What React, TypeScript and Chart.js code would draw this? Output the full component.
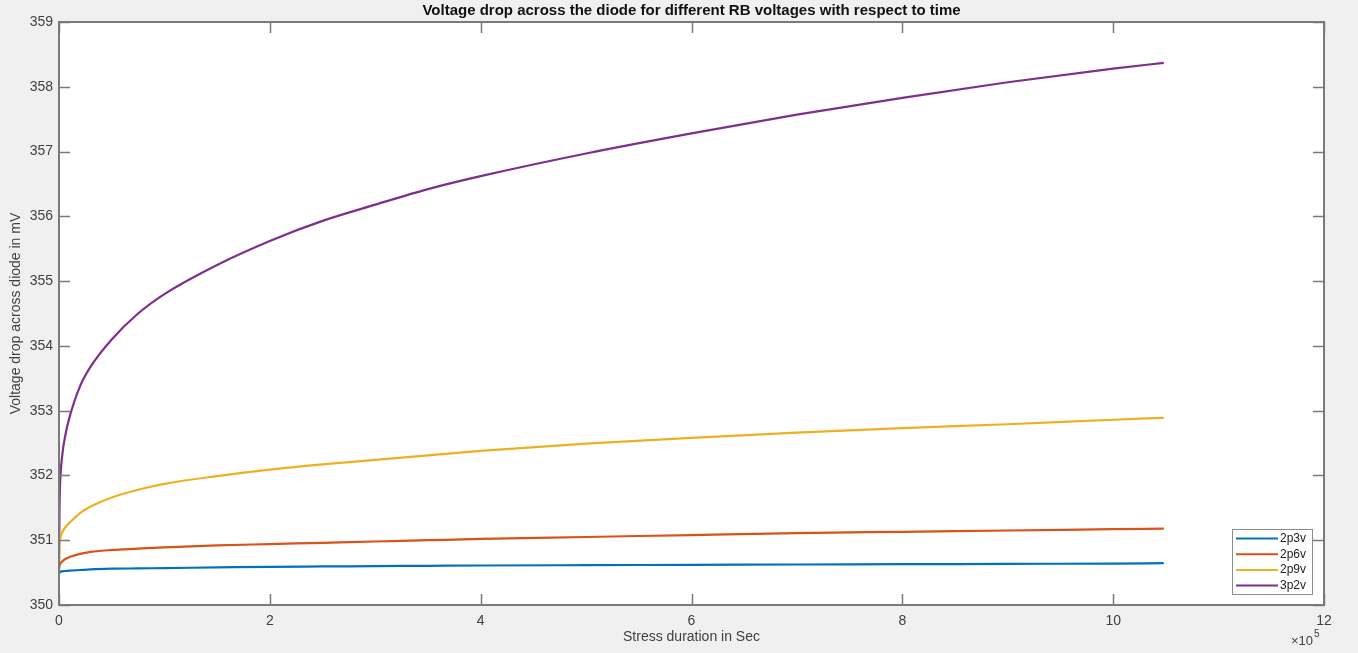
import React, { useEffect, useRef } from 'react';
import { Chart, registerables } from 'chart.js';
Chart.register(...registerables);

const chartTitle = 'Voltage drop across the diode for different RB voltages with respect to time';
const xAxisLabel = 'Stress duration in Sec';
const yAxisLabel = 'Voltage drop across diode in mV';
const seriesNames = ['2p3v', '2p6v', '2p9v', '3p2v'];
const seriesColors = ['#0072BD', '#D95319', '#EDB120', '#7E2F8E'];

const timeSec = [0, 500, 1000, 3000, 6000, 10000, 20000, 30000, 50000, 75000, 100000, 150000, 200000, 250000, 300000, 350000, 400000, 500000, 600000, 700000, 800000, 900000, 1000000, 1048000];

const v2p3 = [350.48, 350.5, 350.51, 350.52, 350.525, 350.53, 350.54, 350.55, 350.56, 350.565, 350.57, 350.58, 350.59, 350.595, 350.6, 350.605, 350.61, 350.615, 350.62, 350.625, 350.63, 350.635, 350.64, 350.645];
const v2p6 = [350.55, 350.6, 350.63, 350.67, 350.71, 350.74, 350.79, 350.82, 350.85, 350.87, 350.89, 350.92, 350.94, 350.96, 350.98, 351.0, 351.02, 351.05, 351.08, 351.11, 351.13, 351.15, 351.17, 351.18];
const v2p9 = [350.5, 350.95, 351.02, 351.12, 351.2, 351.27, 351.42, 351.52, 351.66, 351.78, 351.87, 351.99, 352.09, 352.17, 352.24, 352.31, 352.38, 352.49, 352.58, 352.66, 352.73, 352.79, 352.86, 352.89];
const v3p2 = [350.6, 351.5, 351.85, 352.3, 352.62, 352.9, 353.38, 353.68, 354.1, 354.5, 354.8, 355.25, 355.62, 355.93, 356.18, 356.42, 356.62, 356.97, 357.28, 357.57, 357.83, 358.07, 358.28, 358.37];

const seriesValues = [v2p3, v2p6, v2p9, v3p2];

const xTickValues = [0, 200000, 400000, 600000, 800000, 1000000, 1200000];
const yTickValues = [350, 351, 352, 353, 354, 355, 356, 357, 358, 359];

const FONT = '"Liberation Sans", Arial, Helvetica, sans-serif';
const AXIS_COLOR = '#7a7a7a';
const TEXT_COLOR = '#404040';

const decorPlugin = {
  id: 'decor',
  beforeDraw(chart: any) {
    const { ctx, chartArea: a, width, height } = chart;
    ctx.save();
    ctx.fillStyle = '#f0f0f0';
    ctx.fillRect(0, 0, width, height);
    ctx.fillStyle = '#ffffff';
    ctx.fillRect(a.left, a.top, a.right - a.left, a.bottom - a.top);
    ctx.restore();
  },
  afterDatasetsDraw(chart: any) {
    const { ctx, chartArea: a, scales } = chart;
    const xs = scales.x;
    const ys = scales.y;
    const tl = 11;
    ctx.save();
    ctx.strokeStyle = AXIS_COLOR;
    ctx.lineWidth = 1.5;
    ctx.beginPath();
    xTickValues.forEach((v) => {
      const px = Math.round(xs.getPixelForValue(v)) + 0.5;
      ctx.moveTo(px, a.bottom);
      ctx.lineTo(px, a.bottom - tl);
      ctx.moveTo(px, a.top);
      ctx.lineTo(px, a.top + tl);
    });
    yTickValues.forEach((v) => {
      const py = Math.round(ys.getPixelForValue(v)) + 0.5;
      ctx.moveTo(a.left, py);
      ctx.lineTo(a.left + tl, py);
      ctx.moveTo(a.right, py);
      ctx.lineTo(a.right - tl, py);
    });
    ctx.stroke();
    ctx.lineWidth = 2;
    ctx.strokeRect(a.left, a.top, a.right - a.left, a.bottom - a.top);

    // title
    ctx.fillStyle = '#111111';
    ctx.font = `bold 15px ${FONT}`;
    ctx.textAlign = 'center';
    ctx.textBaseline = 'middle';
    ctx.fillText(chartTitle, (a.left + a.right) / 2, 11);

    // axis labels
    ctx.fillStyle = TEXT_COLOR;
    ctx.font = `14px ${FONT}`;
    ctx.fillText(xAxisLabel, (a.left + a.right) / 2, 637);
    ctx.save();
    ctx.translate(16, (a.top + a.bottom) / 2);
    ctx.rotate(-Math.PI / 2);
    ctx.fillText(yAxisLabel, 0, 0);
    ctx.restore();

    // exponent
    ctx.textAlign = 'left';
    ctx.font = `13px ${FONT}`;
    const baseText = '\u00d710';
    const bx = 1291;
    ctx.fillText(baseText, bx, 641);
    const bw = ctx.measureText(baseText).width;
    ctx.font = `10px ${FONT}`;
    ctx.fillText('5', bx + bw + 1, 634);

    // legend
    const lx = 1232, ly = 529, lw = 80, lh = 65;
    ctx.fillStyle = '#ffffff';
    ctx.fillRect(lx, ly, lw, lh);
    ctx.strokeStyle = '#8c8c8c';
    ctx.lineWidth = 1;
    ctx.strokeRect(lx + 0.5, ly + 0.5, lw, lh);
    ctx.font = `12px ${FONT}`;
    ctx.textBaseline = 'middle';
    chart.data.datasets.forEach((ds: any, i: number) => {
      const yy = ly + 9.5 + i * 15.7;
      ctx.strokeStyle = ds.borderColor;
      ctx.lineWidth = 2;
      ctx.beginPath();
      ctx.moveTo(lx + 4, yy);
      ctx.lineTo(lx + 46, yy);
      ctx.stroke();
      ctx.fillStyle = '#222222';
      ctx.fillText(ds.label, lx + 48, yy);
    });
    ctx.restore();
  },
};

export default function App() {
  const ref = useRef<HTMLCanvasElement | null>(null);
  useEffect(() => {
    document.body.style.margin = '0';
    const canvas = ref.current;
    if (!canvas) return;
    const datasets = seriesNames.map((name, i) => ({
      label: name,
      data: timeSec.map((t, j) => ({ x: t, y: seriesValues[i][j] })),
      borderColor: seriesColors[i],
      backgroundColor: seriesColors[i],
      borderWidth: 2.2,
      pointRadius: 0,
      cubicInterpolationMode: 'monotone' as const,
      fill: false,
    }));
    const chart = new Chart(canvas, {
      type: 'line',
      data: { datasets },
      options: {
        responsive: false,
        animation: false,
        devicePixelRatio: 1,
        layout: { padding: { top: 22, right: 34, left: 0, bottom: 0 } },
        plugins: {
          legend: { display: false },
          title: { display: false },
          tooltip: { enabled: false },
        },
        scales: {
          x: {
            type: 'linear',
            min: 0,
            max: 1200000,
            afterFit: (s: any) => { s.height = 48; },
            afterBuildTicks: (s: any) => { s.ticks = xTickValues.map((v) => ({ value: v })); },
            grid: { display: false, drawTicks: false },
            border: { display: false },
            ticks: {
              padding: 8,
              color: TEXT_COLOR,
              font: { family: FONT, size: 14 },
              maxRotation: 0,
              callback: (v: any) => String(Number(v) / 100000),
            },
          },
          y: {
            type: 'linear',
            min: 350,
            max: 359,
            afterFit: (s: any) => { s.width = 59; },
            afterBuildTicks: (s: any) => { s.ticks = yTickValues.map((v) => ({ value: v })); },
            grid: { display: false, drawTicks: false },
            border: { display: false },
            ticks: {
              padding: 6,
              color: TEXT_COLOR,
              font: { family: FONT, size: 14 },
              callback: (v: any) => String(v),
            },
          },
        },
      },
      plugins: [decorPlugin],
    });
    return () => chart.destroy();
  }, []);
  return <canvas ref={ref} width={1358} height={653} style={{ display: 'block' }} />;
}
